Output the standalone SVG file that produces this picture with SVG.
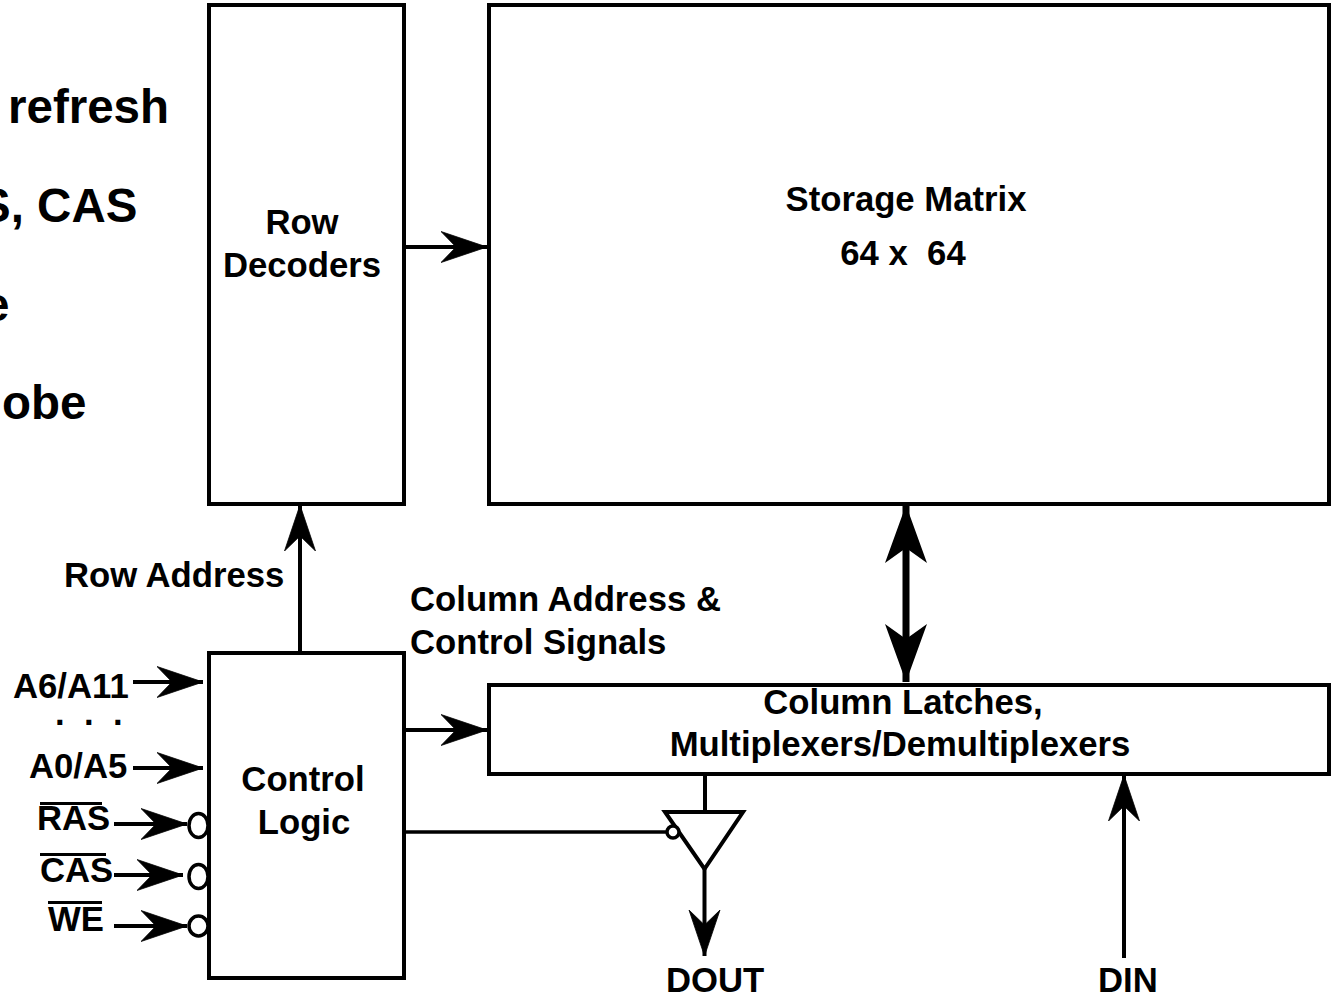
<svg xmlns="http://www.w3.org/2000/svg" width="1331" height="996" viewBox="0 0 1331 996">
<style>
text{font-family:"Liberation Sans",Arial,sans-serif;font-weight:700;font-size:34.700px;fill:#000}
.big{font-size:47.500px}
.m{text-anchor:middle}
.box{fill:#fff;stroke:#000;stroke-width:4}
.w{fill:none;stroke:#000;stroke-width:4}
.t{fill:none;stroke:#000;stroke-width:3.5}
.bub{fill:#fff;stroke:#000;stroke-width:3.5}
.a{marker-end:url(#h)}
</style>
<defs>
<marker id="h" markerUnits="userSpaceOnUse" orient="auto" markerWidth="48" markerHeight="34" refX="46" refY="16" viewBox="0 0 48 34"><path d="M0,0.5L46,16L0,31.5L15,16z" stroke="#000" stroke-width="0.8"/></marker>
<marker id="hb" markerUnits="userSpaceOnUse" orient="auto-start-reverse" markerWidth="60" markerHeight="44" refX="58" refY="22" viewBox="0 0 60 44"><path d="M0,1L58,22L0,43L15,22z"/></marker>
</defs>
<rect width="1331" height="996" fill="#fff"/>
<g id="side-text">
<text class="big" x="8" y="123">refresh</text>
<text class="big" x="-21" y="222">S, CAS</text>
<text class="big" x="-17" y="321">e</text>
<text class="big" x="2" y="419">obe</text>
</g>
<g id="connectors">
<path class="w a" d="M404,247H487"/>
<path class="w a" d="M300,652V505"/>
<path class="w a" d="M404,730H487"/>
<path class="w a" d="M133,682H203"/>
<path class="w a" d="M133,768H203"/>
<path class="w a" d="M114,824H187"/>
<path class="w a" d="M114,875H183"/>
<path class="w a" d="M114,926H187"/>
<path d="M906,505V682" fill="none" stroke="#000" stroke-width="7" marker-start="url(#hb)" marker-end="url(#hb)"/>
<path class="w" d="M705,774V812"/>
<path class="w a" d="M704.500,869V956"/>
<path class="w a" d="M1124,958V775"/>
<path class="t" d="M404,832H667"/>
</g>
<g id="row-decoders"><rect class="box" x="209" y="5" width="195" height="499"/>
<text class="m" x="302" y="234">Row</text><text class="m" x="302" y="277">Decoders</text></g>
<g id="storage-matrix"><rect class="box" x="489" y="5" width="840" height="499"/>
<text class="m" x="906" y="211">Storage Matrix</text><text class="m" x="903" y="265" xml:space="preserve">64 x  64</text></g>
<g id="bubbles">
<ellipse class="bub" cx="198.500" cy="825.500" rx="9.500" ry="12"/>
<ellipse class="bub" cx="198.500" cy="876.500" rx="9.500" ry="12"/>
<ellipse class="bub" cx="198.500" cy="926" rx="9.500" ry="10"/>
</g>
<g id="control-logic"><rect class="box" x="209" y="653" width="195" height="325"/>
<text class="m" x="303" y="791">Control</text><text class="m" x="304" y="834">Logic</text></g>
<g id="column-latches"><rect class="box" x="489" y="685" width="840" height="89"/>
<text class="m" x="903" y="714">Column Latches,</text><text class="m" x="900" y="756">Multiplexers/Demultiplexers</text></g>
<g id="tristate-buffer">
<path class="w" d="M665,812H743L704.500,869Z" style="fill:#fff"/>
<circle class="bub" cx="673" cy="832" r="6"/>
</g>
<g id="labels">
<text x="64" y="587">Row Address</text>
<text x="410" y="611">Column Address &amp;</text>
<text x="410" y="654">Control Signals</text>
<text x="13" y="698">A6/A11</text>
<text x="55" y="725" word-spacing="9.700" xml:space="preserve">. . .</text>
<text x="29" y="778">A0/A5</text>
<text x="37" y="830">RAS</text><path d="M40,803.500H102" stroke="#000" stroke-width="3"/>
<text x="40" y="882">CAS</text><path d="M40,854.500H106" stroke="#000" stroke-width="3"/>
<text x="48" y="931">WE</text><path d="M48,902.500H102" stroke="#000" stroke-width="3"/>
<text x="666" y="992">DOUT</text>
<text x="1098" y="992">DIN</text>
</g>
</svg>
